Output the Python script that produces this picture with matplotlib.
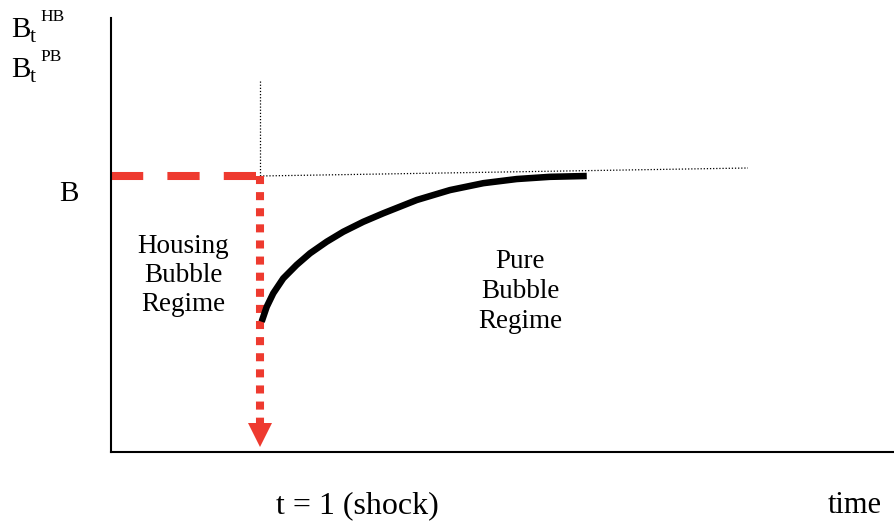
import matplotlib
matplotlib.use("Agg")
import matplotlib.pyplot as plt

plt.rcParams['font.family'] = ['Liberation Serif', 'DejaVu Serif']

# Data (time units: shock at t=1; value units: steady-state B = 1)
shock_t = 1.0
B_level = 1.0
curve_t = [1.011, 1.045, 1.089, 1.156, 1.246, 1.336, 1.448, 1.559, 1.693, 1.828,
           2.052, 2.275, 2.499, 2.723, 2.946, 3.193]
curve_b = [0.472, 0.526, 0.575, 0.629, 0.678, 0.720, 0.762, 0.798, 0.834, 0.865,
           0.913, 0.949, 0.974, 0.989, 0.997, 1.0]
housing_t = [0.0, 1.0]
housing_b = [1.0, 1.0]
drop_t = [1.0, 1.0]
drop_b = [1.0, 0.10]
arrow_tip_b = 0.06
guide_v_t = [1.0, 1.0]
guide_v_b = [1.0, 1.348]
guide_h_t = [1.0, 4.275]
guide_h_b = [1.0, 1.029]

red = '#ee3a2f'

fig = plt.figure(figsize=(8.95, 5.21), dpi=100)
W, H = 895, 521
ax = fig.add_axes([111 / W, (H - 452) / H, (W - 111) / W, (452 - 18) / H])
ax.set_xlim(0, 784 / 149)
ax.set_ylim(0, 434 / 276)
for s in ['top', 'right']:
    ax.spines[s].set_visible(False)
for s in ['left', 'bottom']:
    ax.spines[s].set_linewidth(1.5)
ax.set_xticks([])
ax.set_yticks([])

# guides
ax.plot(guide_v_t, guide_v_b, color='black', lw=0.9, ls=(0, (1, 1.5)))
ax.plot(guide_h_t, guide_h_b, color='black', lw=0.9, ls=(0, (1, 1.5)))

# housing bubble regime: red dashed level
ax.plot(housing_t, housing_b, color=red, lw=5.8, ls=(0, (4, 3)), dash_capstyle='butt')
# drop at shock: red dotted with arrow
ax.plot(drop_t, drop_b, color=red, lw=5.8, ls=(0, (1, 1)), dash_capstyle='butt')
ax.plot([shock_t], [arrow_tip_b], marker='v', color=red, markersize=17, markeredgewidth=0)

# pure bubble regime curve
ax.plot(curve_t, curve_b, color='black', lw=4.7, solid_capstyle='butt', solid_joinstyle='round')


def ptext(x, y, s, size, ha='center'):
    fig.text(x / W, 1 - y / H, s, ha=ha, va='baseline', fontsize=size)


fs = 19.5
for i, line in enumerate(['Housing', 'Bubble', 'Regime']):
    ptext(183.5, 253 + 29 * i, line, fs)
for i, line in enumerate(['Pure', 'Bubble', 'Regime']):
    ptext(520, 268 + 30 * i, line, fs)

ptext(69, 201, 'B', 21)
ptext(357, 513, 't = 1 (shock)', 23)
ptext(855, 513, 'time', 22)

# B_t^HB and B_t^PB
for yb, sup in [(37, 'HB'), (77, 'PB')]:
    ptext(11, yb, 'B', 21, ha='left')
    ptext(30, yb + 5, 't', 16, ha='left')
    ptext(40, yb - 16, sup, 12.5, ha='left')

fig.savefig('out.png', dpi=100)
